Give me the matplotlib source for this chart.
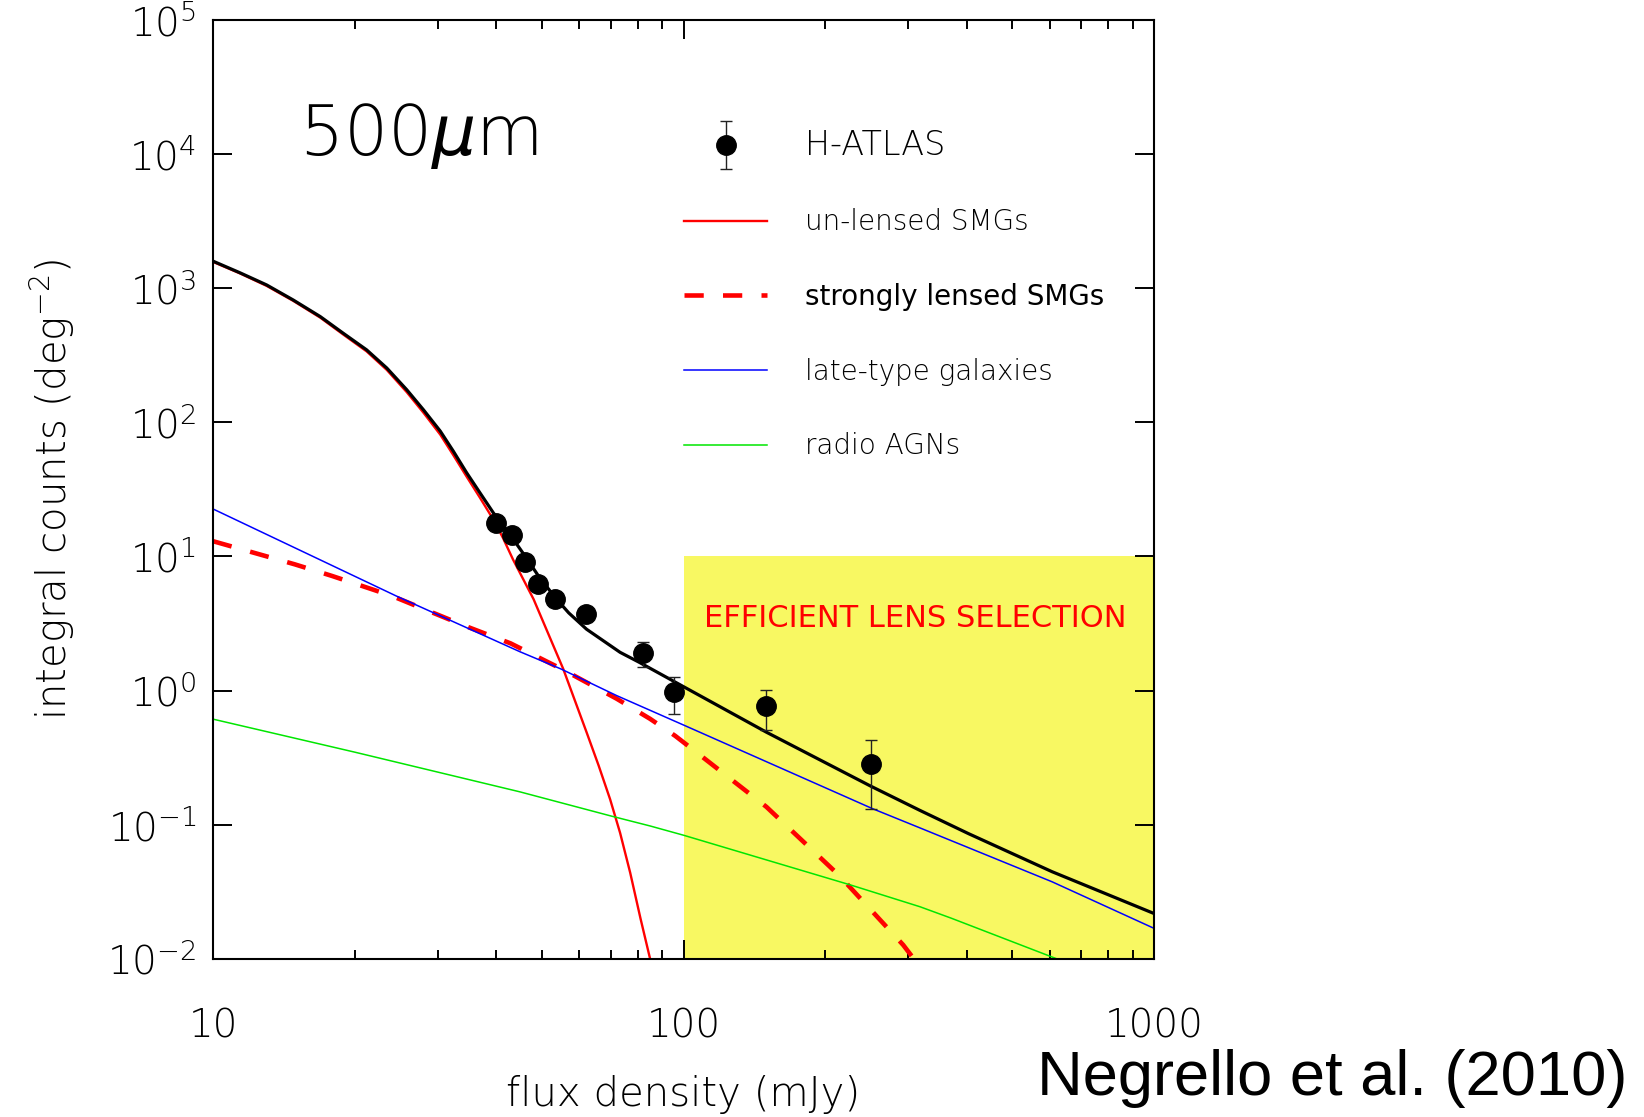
"""
Integral source counts at 500um: H-ATLAS data vs model components
(re-drawn after Negrello et al. 2010)
"""

import numpy as np
import matplotlib
matplotlib.use("Agg")
import matplotlib.pyplot as plt
from matplotlib.container import ErrorbarContainer
from matplotlib.legend_handler import HandlerErrorbar
from matplotlib.ticker import FixedLocator, FuncFormatter, NullFormatter, NullLocator

plt.rcParams['font.family'] = ['DejaVu Sans']
plt.rcParams['font.weight'] = 'light'
plt.rcParams['axes.labelweight'] = 'light'
plt.rcParams['mathtext.default'] = 'regular'

# H-ATLAS counts (mJy, deg^-2) with lower / upper error bounds
FLUX_OBS = [39.9, 43.1, 46.1, 49.1, 53.2, 62.0, 81.9, 95.3, 150.0, 250.0]
COUNTS_OBS = [17.9, 14.4, 9.1, 6.2, 4.8, 3.7, 1.9, 0.97, 0.77, 0.285]
COUNTS_LO = [16.8, 13.5, 8.5, 5.8, 4.5, 3.45, 1.49, 0.671, 0.51, 0.132]
COUNTS_HI = [19.0, 15.3, 9.7, 6.6, 5.1, 3.95, 2.29, 1.27, 1.017, 0.430]

# total model (black)
FLUX_TOTAL = [10, 11.4, 13.0, 14.8, 16.9, 18.9, 21.2, 23.4, 25.8, 28.0, 30.4,
              32.4, 34.6, 36.9, 39.4, 43.1, 46.1, 49.1, 53.2, 57.0, 62.2, 73.3,
              80.4, 100, 150, 250, 318, 403, 607, 1000]
COUNTS_TOTAL = [1590, 1304, 1057, 817, 614, 462, 347, 254, 175, 124, 86,
                61, 42, 29.9, 21.2, 14.0, 10.0, 7.2, 5.0, 3.8, 2.87, 1.93,
                1.63, 1.07, 0.49, 0.194, 0.128, 0.086, 0.0447, 0.0218]

# un-lensed SMGs (red solid)
FLUX_UNLENSED = [10, 11.4, 13.0, 14.8, 16.9, 18.9, 21.2, 23.4, 25.8, 28.0,
                 30.4, 32.4, 34.6, 36.9, 39.4, 41.3, 43.4, 48.0, 55.5, 62.2,
                 66.0, 69.8, 73.3, 77.0, 81.0, 84.9, 88.0]
COUNTS_UNLENSED = [1570, 1290, 1040, 805, 603, 452, 338, 246, 168, 118,
                   81, 57, 39.3, 27.5, 18.9, 13.8, 9.5, 4.8, 1.45, 0.49,
                   0.276, 0.155, 0.087, 0.044, 0.020, 0.010, 0.0065]

# strongly lensed SMGs (red dashed)
FLUX_LENSED = [10, 14.9, 17.9, 24.0, 34.3, 42.9, 55.5, 72.1, 84.9, 96, 111,
               150, 214, 293, 310]
COUNTS_LENSED = [13.0, 8.75, 7.16, 5.08, 3.04, 2.25, 1.43, 0.87, 0.616, 0.46, 0.31,
                 0.136, 0.042, 0.0127, 0.0098]

# late-type galaxies (blue)
FLUX_LATE = [10, 24.5, 44.9, 54.9, 72.1, 100.6, 252, 318, 607, 1000]
COUNTS_LATE = [22.6, 5.08, 1.95, 1.45, 0.918, 0.549, 0.132, 0.0948, 0.0376, 0.0169]

# radio AGNs (green)
FLUX_AGN = [10, 20, 44.9, 70.3, 84.9, 100, 227, 318, 371, 622, 700]
COUNTS_AGN = [0.613, 0.348, 0.176, 0.116, 0.098, 0.0836, 0.0355, 0.0245, 0.0201, 0.010, 0.0085]

# efficient lens selection region
LENS_FLUX = [100, 1000]
LENS_COUNTS_TOP = 10

X_RANGE = (10, 1000)
Y_RANGE = (1e-2, 1e5)


def main():
    fig = plt.figure(figsize=(16.44, 11.17), dpi=100)
    ax = fig.add_axes([0.1296, 0.1415, 0.5724, 0.8407])

    ax.fill_between(LENS_FLUX, Y_RANGE[0], LENS_COUNTS_TOP, color='#f8f862',
                    linewidth=0, zorder=0.5)

    ax.plot(FLUX_UNLENSED, COUNTS_UNLENSED, color='#ff0000', lw=1.7, zorder=2,
            label='un-lensed SMGs')
    ax.plot(FLUX_LENSED, COUNTS_LENSED, color='#ff0000', lw=3.3, zorder=2,
            linestyle=(0, (4.2, 4.2)), label='strongly lensed SMGs')
    ax.plot(FLUX_LATE, COUNTS_LATE, color='#0000ff', lw=1.1, zorder=2,
            label='late-type galaxies')
    ax.plot(FLUX_AGN, COUNTS_AGN, color='#00e600', lw=1.1, zorder=2,
            label='radio AGNs')
    ax.plot(FLUX_TOTAL, COUNTS_TOTAL, color='black', lw=2.3, zorder=2.5)

    obs = np.array(COUNTS_OBS)
    yerr = [obs - np.array(COUNTS_LO), np.array(COUNTS_HI) - obs]
    ax.errorbar(FLUX_OBS, COUNTS_OBS, yerr=yerr, fmt='o', color='black',
                ms=14, elinewidth=1.0, ecolor='#222222', capsize=4, capthick=1.0,
                zorder=3, label='H-ATLAS')

    ax.set_xscale('log')
    ax.set_yscale('log')
    ax.set_xlim(*X_RANGE)
    ax.set_ylim(*Y_RANGE)

    ax.xaxis.set_major_formatter(FuncFormatter(lambda v, p: f'{v:g}'))
    ax.xaxis.set_minor_formatter(NullFormatter())
    ax.yaxis.set_major_locator(FixedLocator([10.0 ** k for k in range(-2, 6)]))
    ax.yaxis.set_minor_locator(NullLocator())
    ax.yaxis.set_major_formatter(
        FuncFormatter(lambda v, p: r'$\mathdefault{10^{%d}}$' % round(np.log10(v))))

    ax.tick_params(which='both', direction='in', top=True, right=True,
                   width=1.4, color='black')
    ax.tick_params(which='major', length=13.5)
    ax.tick_params(which='minor', length=6.5)
    ax.tick_params(axis='x', which='major', pad=35, labelsize=28)
    ax.tick_params(axis='y', which='major', pad=12, labelsize=28)
    for spine in ax.spines.values():
        spine.set_linewidth(1.5)

    ax.set_xlabel('flux density (mJy)', fontsize=29)
    ax.set_ylabel(r'integral counts (deg$^{-2}$)', fontsize=29)
    ax.xaxis.set_label_coords(0.5, -0.1235)
    ax.yaxis.set_label_coords(-0.145, 0.5)

    ax.text(0.0914, 0.856, r'500$\mathit{\mu}$m', transform=ax.transAxes,
            fontsize=50, va='baseline', ha='left')
    ax.text(310, 3.45, 'EFFICIENT LENS SELECTION', color='#ff0000', fontsize=22,
            weight='normal', ha='center', va='center', zorder=4)

    handles, labels = ax.get_legend_handles_labels()
    order = [labels.index(n) for n in ['H-ATLAS', 'un-lensed SMGs',
                                       'strongly lensed SMGs',
                                       'late-type galaxies', 'radio AGNs']]
    leg = ax.legend([handles[i] for i in order], [labels[i] for i in order],
                    loc='upper left', bbox_to_anchor=(0.5005, 0.884),
                    frameon=False, fontsize=20, handlelength=3.0,
                    handletextpad=1.35, labelspacing=1.68, borderpad=0,
                    borderaxespad=0,
                    handler_map={ErrorbarContainer: HandlerErrorbar(yerr_size=0.85)})
    texts = leg.get_texts()
    texts[0].set_fontsize(24)
    texts[2].set_fontweight('normal')

    fig.text(0.990, 0.0197, 'Negrello et al. (2010)', fontsize=45.5,
             family=['Liberation Sans', 'DejaVu Sans'], weight='normal',
             ha='right', va='baseline')

    fig.savefig('out.png', dpi=100)


if __name__ == "__main__":
    main()
